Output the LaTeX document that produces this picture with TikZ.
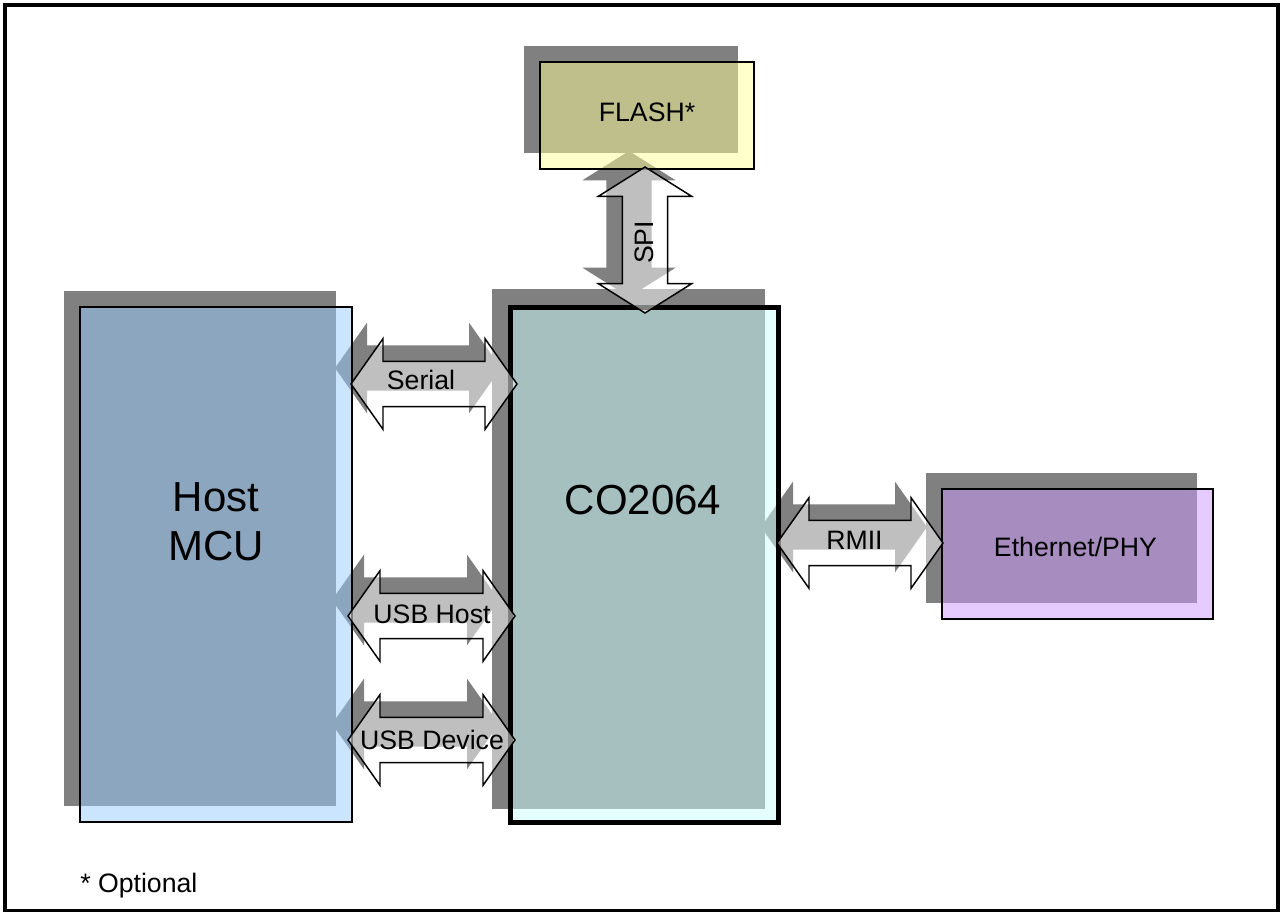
\documentclass[tikz,border=0pt]{standalone}
\usepackage{fontspec}
\setmainfont{Liberation Sans}
\usetikzlibrary{calc}
\definecolor{shadowc}{HTML}{808080}
\definecolor{hostc}{HTML}{99CCFF}
\definecolor{coc}{HTML}{CCFFFF}
\definecolor{flashc}{HTML}{FFFF99}
\definecolor{ethc}{HTML}{CC99FF}
\pgfdeclarelayer{bg}
\pgfsetlayers{bg,main}
\tikzset{
  box/.style={draw=black, line width=1pt, fill opacity=0.5, draw opacity=1, inner sep=0pt, outer sep=0pt},
  arrowbody/.style={draw=black, line width=1.1pt, fill=white, fill opacity=0.5, draw opacity=1, line join=miter},
  arrowshadow/.style={fill=shadowc},
  smalltxt/.style={font=\fontsize{20}{24}\selectfont, inner sep=0pt, text=black},
  bigtxt/.style={font=\fontsize{31.5}{36.75}\selectfont, inner sep=0pt, text=black},
}
% horizontal double arrow between left tip #2 and right tip #3, offset #4
\newcommand{\dblH}[4]{\path[#1] let \p1=($(#2)+(#4)$), \p2=($(#3)+(#4)$) in
  (\p1) -- (\x1+24pt,\y1+34pt) -- (\x1+24pt,\y1+17pt) -- (\x2-24pt,\y1+17pt) -- (\x2-24pt,\y1+34pt)
  -- (\x2,\y1) -- (\x2-24pt,\y1-34pt) -- (\x2-24pt,\y1-17pt) -- (\x1+24pt,\y1-17pt) -- (\x1+24pt,\y1-34pt) -- cycle;}
% vertical double arrow between top tip #2 and bottom tip #3, offset #4
\newcommand{\dblV}[4]{\path[#1] let \p1=($(#2)+(#4)$), \p2=($(#3)+(#4)$) in
  (\p1) -- (\x1+35pt,\y1-22pt) -- (\x1+17pt,\y1-22pt) -- (\x1+17pt,\y2+22pt) -- (\x1+35pt,\y2+22pt)
  -- (\x1,\y2) -- (\x1-35pt,\y2+22pt) -- (\x1-17pt,\y2+22pt) -- (\x1-17pt,\y1-22pt) -- (\x1-35pt,\y1-22pt) -- cycle;}
\begin{document}
\begin{tikzpicture}[x=0.75pt, y=-0.75pt]
\useasboundingbox (0,0) rectangle (1287,912);
% arrow end points
\coordinate (spiT) at (645,167);
\coordinate (spiB) at (645,313);
\coordinate (serL) at (351,384);
\coordinate (serR) at (517,384);
\coordinate (uhL) at (348,616);
\coordinate (uhR) at (515,616);
\coordinate (udL) at (348,740);
\coordinate (udR) at (515,740);
\coordinate (rmL) at (777,543);
\coordinate (rmR) at (943,543);
% boxes
\node[box, fill=hostc, minimum width=272*0.75pt, minimum height=515*0.75pt] (host) at (216,564.5) {};
\node[box, fill=coc, line width=3.75pt, minimum width=268*0.75pt, minimum height=514*0.75pt] (co) at (644,565) {};
\node[box, fill=flashc, minimum width=214*0.75pt, minimum height=107*0.75pt] (flash) at (647,115.5) {};
\node[box, fill=ethc, minimum width=271*0.75pt, minimum height=130*0.75pt] (eth) at (1077.5,554) {};
% background: frame and shadows
\begin{pgfonlayer}{bg}
  \draw[line width=3pt, fill=white] (5,5) rectangle (1278,910.5);
  \fill[shadowc] ([shift={(-16,-16)}]host.south west) rectangle ([shift={(-16,-16)}]host.north east);
  \fill[shadowc] (491.5,289.5) rectangle (764.5,808.5);
  \fill[shadowc] ([shift={(-16,-16)}]flash.south west) rectangle ([shift={(-16,-16)}]flash.north east);
  \fill[shadowc] ([shift={(-16,-16)}]eth.south west) rectangle ([shift={(-16,-16)}]eth.north east);
  \dblV{arrowshadow}{spiT}{spiB}{-16,-16}
  \dblH{arrowshadow}{serL}{serR}{-16,-16}
  \dblH{arrowshadow}{uhL}{uhR}{-16,-16}
  \dblH{arrowshadow}{udL}{udR}{-16,-16}
  \dblH{arrowshadow}{rmL}{rmR}{-16,-16}
\end{pgfonlayer}
% arrows
\dblV{arrowbody}{spiT}{spiB}{0,0}
\dblH{arrowbody}{serL}{serR}{0,0}
\dblH{arrowbody}{uhL}{uhR}{0,0}
\dblH{arrowbody}{udL}{udR}{0,0}
\dblH{arrowbody}{rmL}{rmR}{0,0}
% texts
\node[smalltxt, anchor=base] (flashtxt) at (647,122) {FLASH*};
\node[smalltxt, anchor=base, rotate=90] (spitxt) at (653,242.5) {SPI};
\node[smalltxt, anchor=base] (sertxt) at (421,389) {Serial};
\node[smalltxt, anchor=base] (uhtxt) at (432,623) {USB Host};
\node[smalltxt, anchor=base] (udtxt) at (432,749) {USB Device};
\node[smalltxt, anchor=base] (rmtxt) at (854.5,549) {RMII};
\node[smalltxt, anchor=base] (ethtxt) at (1075.5,556) {Ethernet/PHY};
\node[bigtxt, anchor=base] (cotxt) at (643,514) {CO2064};
\node[bigtxt, anchor=base, align=center] (hosttxt) at (216,560.7) {Host\\MCU};
\node[smalltxt, anchor=base west] (opttxt) at (80,892) {* Optional};
\end{tikzpicture}
\end{document}
